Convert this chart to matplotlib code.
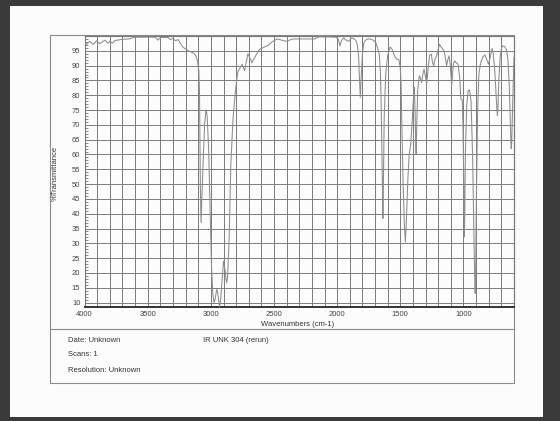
import matplotlib
matplotlib.use("Agg")
import matplotlib.pyplot as plt
import numpy as np
from matplotlib.patches import Rectangle
from matplotlib.lines import Line2D

plt.rcParams['font.family'] = ['Liberation Sans', 'DejaVu Sans']

# Spectrum (wavenumber cm-1, %T)
wavenumbers = [4000, 3985, 3960, 3930, 3905, 3880, 3860, 3840, 3815, 3800, 3780, 3760, 3740, 3700, 3650,
               3600, 3500, 3440, 3420, 3400, 3340, 3320, 3300, 3280, 3260, 3240, 3220, 3200, 3170, 3140,
               3120, 3105, 3095, 3090, 3086, 3083, 3078, 3066, 3050, 3040, 3036, 3030, 3018, 3005,
               2995, 2985, 2975, 2968, 2958, 2951, 2942, 2935, 2930, 2922, 2912, 2900, 2888, 2880,
               2875, 2868, 2855, 2843, 2825, 2809, 2795, 2786, 2767, 2752, 2733, 2707, 2690, 2676,
               2660, 2645, 2616, 2574, 2540, 2517, 2475, 2440, 2404, 2380, 2347, 2300, 2250, 2177,
               2148, 2100, 2007, 1990, 1978, 1965, 1950, 1930, 1908, 1890, 1879, 1862, 1851, 1840,
               1830, 1824, 1817, 1810, 1800, 1790, 1780, 1760, 1737, 1715, 1695, 1680, 1667, 1658,
               1652, 1646, 1641, 1638, 1634, 1628, 1616, 1600, 1581, 1565, 1553, 1540, 1530, 1511,
               1500, 1494, 1488, 1478, 1468, 1460, 1452, 1440, 1430, 1417, 1405, 1395, 1389, 1383,
               1378, 1375, 1370, 1362, 1349, 1340, 1332, 1320, 1312, 1300, 1292, 1280, 1268, 1255,
               1245, 1236, 1224, 1213, 1200, 1190, 1175, 1165, 1156, 1145, 1134, 1124, 1114, 1104,
               1097, 1094, 1088, 1080, 1071, 1058, 1043, 1030, 1021, 1010, 1004, 999, 995, 993, 990,
               985, 975, 963, 952, 940, 928, 920, 913, 909, 907, 904, 898, 888, 878, 868, 859, 845,
               830, 816, 802, 790, 774, 764, 752, 742, 735, 731, 727, 720, 710, 698, 688, 675, 660,
               648, 638, 630, 625, 622, 618, 610, 600]
transmittance = [95.5, 97.2, 98.2, 97.2, 98.4, 97.4, 98.0, 98.6, 97.6, 98.3, 97.6, 98.5, 98.6, 98.9, 99.0,
                 99.6, 99.6, 99.6, 98.6, 99.5, 99.5, 98.8, 99.2, 98.4, 98.8, 97.4, 96.2, 95.6, 94.8, 94.3,
                 93.4, 91.5, 88.0, 80.0, 62.0, 48.0, 37.0, 52.0, 70.0, 74.8, 75.0, 73.0, 62.0, 40.0,
                 22.0, 13.0, 10.0, 10.8, 13.5, 14.5, 12.0, 9.5, 8.7, 11.5, 17.0, 24.0, 21.0, 18.0,
                 16.7, 18.5, 32.0, 55.8, 72.0, 80.0, 85.5, 88.0, 89.4, 90.5, 88.3, 94.0, 92.5, 91.0,
                 92.2, 93.3, 95.5, 96.3, 97.0, 98.0, 99.0, 98.6, 98.2, 98.6, 99.0, 99.0, 99.0, 99.0,
                 99.7, 99.7, 99.6, 98.8, 96.7, 98.5, 99.4, 98.6, 98.2, 99.2, 99.3, 98.9, 98.4, 97.0,
                 93.0, 86.0, 79.3, 86.0, 94.0, 97.4, 98.4, 99.0, 99.0, 98.6, 97.8, 96.0, 93.9, 88.0,
                 78.0, 60.0, 45.0, 38.4, 50.0, 72.0, 87.0, 93.5, 96.3, 95.5, 94.0, 92.8, 92.2, 92.0,
                 89.0, 84.0, 70.0, 50.0, 36.0, 30.5, 38.0, 52.0, 60.0, 63.6, 72.0, 80.0, 82.7, 74.0,
                 64.0, 60.2, 70.0, 82.0, 86.6, 85.5, 84.3, 87.5, 88.8, 86.0, 83.8, 89.0, 93.5, 93.9,
                 91.0, 90.0, 92.5, 93.3, 95.5, 97.2, 96.2, 95.5, 95.2, 93.0, 90.0, 92.0, 93.3, 90.0,
                 85.0, 83.2, 86.5, 90.5, 91.6, 91.0, 90.5, 86.0, 78.7, 78.5, 70.0, 55.0, 40.0, 32.2, 40.0,
                 60.0, 76.0, 81.5, 81.8, 78.0, 60.0, 40.0, 22.0, 15.0, 13.1, 18.0, 45.0, 75.0, 87.0, 90.0, 91.6, 93.0,
                 93.6, 92.0, 90.5, 92.5, 95.8, 94.0, 88.0, 80.0, 75.0, 73.1, 76.0, 85.0, 93.0, 96.0, 96.7, 96.5, 95.5,
                 92.0, 84.0, 72.0, 65.0, 62.0, 64.0, 78.0, 92.8]

x_ticks = [4000, 3500, 3000, 2500, 2000, 1500, 1000]
y_ticks = [10, 15, 20, 25, 30, 35, 40, 45, 50, 55, 60, 65, 70, 75, 80, 85, 90, 95]

W, H = 560, 421
fig = plt.figure(figsize=(W / 100, H / 100), dpi=100)
fig.patch.set_facecolor('#3a3a3a')

def fx(px):
    return px / W

def fy(py):
    return 1 - py / H

# paper
fig.patches.append(Rectangle((fx(10), fy(417)), (543 - 10) / W, (417 - 6) / H,
                             transform=fig.transFigure, facecolor='#fcfcfc', edgecolor='none', zorder=-10))
# chart frame
fig.patches.append(Rectangle((fx(50), fy(383)), (514 - 50) / W, (383 - 35) / H,
                             transform=fig.transFigure, facecolor='none', edgecolor='#8a8a8a',
                             linewidth=0.8, zorder=-5))
fig.lines.append(Line2D([fx(50), fx(514)], [fy(329), fy(329)], transform=fig.transFigure,
                        color='#8a8a8a', linewidth=0.8, zorder=-5))

ax = fig.add_axes([fx(84.6), fy(307), (514 - 84.6) / W, (307 - 36) / H])
ax.set_zorder(5)
ax.set_facecolor('none')
ax.plot(wavenumbers, transmittance, color='#8c8c8c', linewidth=0.75, zorder=3)
ax.set_xlim(4000, 600)
ax.set_ylim(8.5, 100)

ax.set_xticks(x_ticks)
ax.set_xticks(np.arange(600, 4001, 100), minor=True)
ax.set_yticks(y_ticks)
ax.set_yticks(np.arange(9, 100, 1), minor=True)
ax.tick_params(axis='both', which='major', labelsize=5.5, length=0, pad=3, colors='#444444')
ax.tick_params(axis='y', which='minor', direction='in', length=2, width=0.5, color='#555555')
ax.tick_params(axis='x', which='minor', length=0)

# grid
for gx in np.arange(600, 4001, 100):
    ax.axvline(gx, color='#7a7a7a', linewidth=0.7, zorder=1)
for gy in np.arange(10, 100, 5):
    ax.axhline(gy, color='#7a7a7a', linewidth=0.7, zorder=1)

for s in ['top', 'right', 'left']:
    ax.spines[s].set_color('#777777')
    ax.spines[s].set_linewidth(0.8)
ax.spines['bottom'].set_color('#333333')
ax.spines['bottom'].set_linewidth(1.4)

fig.text(fx(298), fy(324), 'Wavenumbers (cm-1)', fontsize=5.5, color='#333333', ha='center', va='center')
fig.text(fx(55), fy(173), '%Transmittance', fontsize=5.5, color='#333333', rotation=90,
         ha='center', va='center')

fig.text(fx(68), fy(340), 'Date: Unknown', fontsize=5.5, color='#333333', ha='left', va='center')
fig.text(fx(68), fy(355), 'Scans: 1', fontsize=5.5, color='#333333', ha='left', va='center')
fig.text(fx(68), fy(371), 'Resolution: Unknown', fontsize=5.5, color='#333333', ha='left', va='center')
fig.text(fx(203), fy(341), 'IR UNK 304 (rerun)', fontsize=5.5, color='#333333', ha='left', va='center')

fig.savefig('out.png', dpi=100, facecolor=fig.get_facecolor())
